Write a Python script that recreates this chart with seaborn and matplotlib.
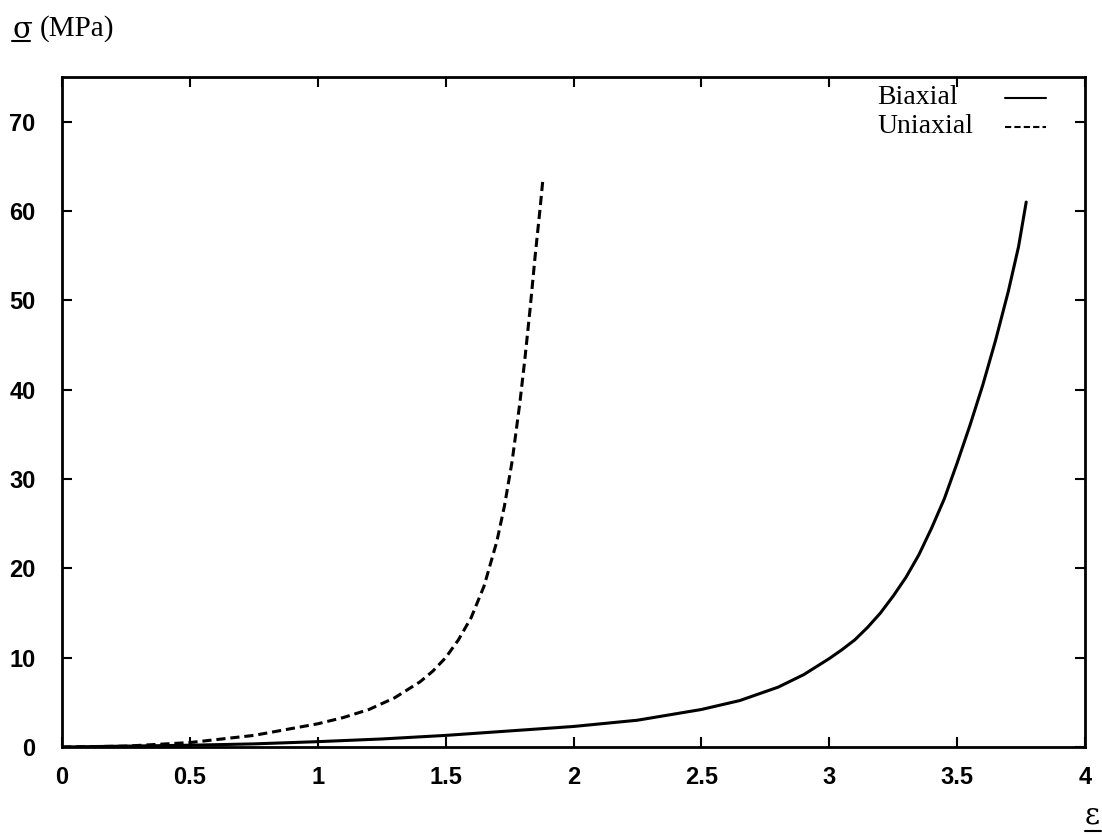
import matplotlib
matplotlib.use("Agg")
import matplotlib.pyplot as plt
import pandas as pd
import seaborn as sns
from matplotlib.lines import Line2D

# values
biaxial_strain = [0, 0.25, 0.5, 0.75, 1.0, 1.25, 1.5, 1.75, 2.0, 2.25, 2.5, 2.65,
                  2.8, 2.9, 3.0, 3.05, 3.1, 3.15, 3.2, 3.25, 3.3, 3.35, 3.4,
                  3.45, 3.5, 3.55, 3.6, 3.65, 3.7, 3.74, 3.77]
biaxial_stress = [0, 0.1, 0.2, 0.35, 0.6, 0.9, 1.3, 1.8, 2.3, 3.0, 4.2, 5.2,
                  6.7, 8.1, 9.9, 10.9, 12.0, 13.4, 15.0, 16.9, 19.0, 21.5, 24.5,
                  27.8, 31.8, 36.0, 40.5, 45.5, 51.0, 56.0, 61.0]

uniaxial_strain = [0, 0.25, 0.5, 0.75, 1.0, 1.1, 1.2, 1.3, 1.4, 1.45, 1.5, 1.55,
                   1.6, 1.65, 1.7, 1.73, 1.76, 1.79, 1.81, 1.83, 1.85, 1.87, 1.88]
uniaxial_stress = [0, 0.1, 0.5, 1.3, 2.6, 3.3, 4.2, 5.5, 7.3, 8.5, 10.0, 12.0,
                   14.5, 18.0, 23.0, 27.0, 32.0, 38.5, 43.5, 49.0, 55.0, 60.5, 63.5]

x_ticks = [0, 0.5, 1, 1.5, 2, 2.5, 3, 3.5, 4]
x_tick_labels = ["0", "0.5", "1", "1.5", "2", "2.5", "3", "3.5", "4"]
y_ticks = [0, 10, 20, 30, 40, 50, 60, 70]
series_names = ["Biaxial", "Uniaxial"]

df = pd.concat([
    pd.DataFrame({"strain": biaxial_strain, "stress": biaxial_stress, "test": "Biaxial"}),
    pd.DataFrame({"strain": uniaxial_strain, "stress": uniaxial_stress, "test": "Uniaxial"}),
])
dash_map = {"Biaxial": "", "Uniaxial": (3, 1.6)}

sns.set_style("ticks")
plt.rcParams["text.color"] = "black"

fig = plt.figure(figsize=(11.02, 8.34), dpi=100)
ax = fig.add_axes([0.0563, 0.1043, 0.9283, 0.8034])

sns.lineplot(
    data=df, x="strain", y="stress", style="test", dashes=dash_map,
    color="black", linewidth=2.2, ax=ax, sort=False, legend=False,
)

ax.set_xlim(0, 4)
ax.set_ylim(0, 75)
ax.set_xticks(x_ticks)
ax.set_xticklabels(x_tick_labels)
ax.set_yticks(y_ticks)
ax.set_xlabel("")
ax.set_ylabel("")
ax.tick_params(direction="in", length=7, width=1.5, top=True, right=True,
               labelsize=17, colors="black")
ax.tick_params(axis="x", pad=14)
ax.tick_params(axis="y", pad=19)
for lab in ax.get_xticklabels() + ax.get_yticklabels():
    lab.set_fontweight("bold")
    lab.set_family("Liberation Sans")
for side in ax.spines.values():
    side.set_linewidth(2)
    side.set_color("black")

# gnuplot-style key: left-aligned text, sample line to the right
key_y = [0.969, 0.926]
for name, ky in zip(series_names, key_y):
    ax.text(0.797, ky, name, transform=ax.transAxes, fontsize=20,
            family="Liberation Serif", color="black", ha="left", va="center")
    sample = Line2D([0.922, 0.962], [ky, ky], transform=ax.transAxes,
                    color="black", lw=1.5)
    if dash_map[name]:
        sample.set_dashes((3, 1.5))
    ax.add_line(sample)

# axis titles with underlined symbols
fig.text(0.011, 0.964, "σ", fontsize=21, family="DejaVu Serif",
         color="black", ha="left", va="center")
fig.text(0.036, 0.966, "(MPa)", fontsize=21, family="Liberation Serif",
         color="black", ha="left", va="center")
fig.add_artist(Line2D([0.011, 0.027], [0.951, 0.951], color="black", lw=1.5))

fig.text(0.998, 0.022, "ε", fontsize=21, family="DejaVu Serif",
         color="black", ha="right", va="center")
fig.add_artist(Line2D([0.985, 0.999], [0.004, 0.004], color="black", lw=1.5))

fig.savefig("out.png", dpi=100)
